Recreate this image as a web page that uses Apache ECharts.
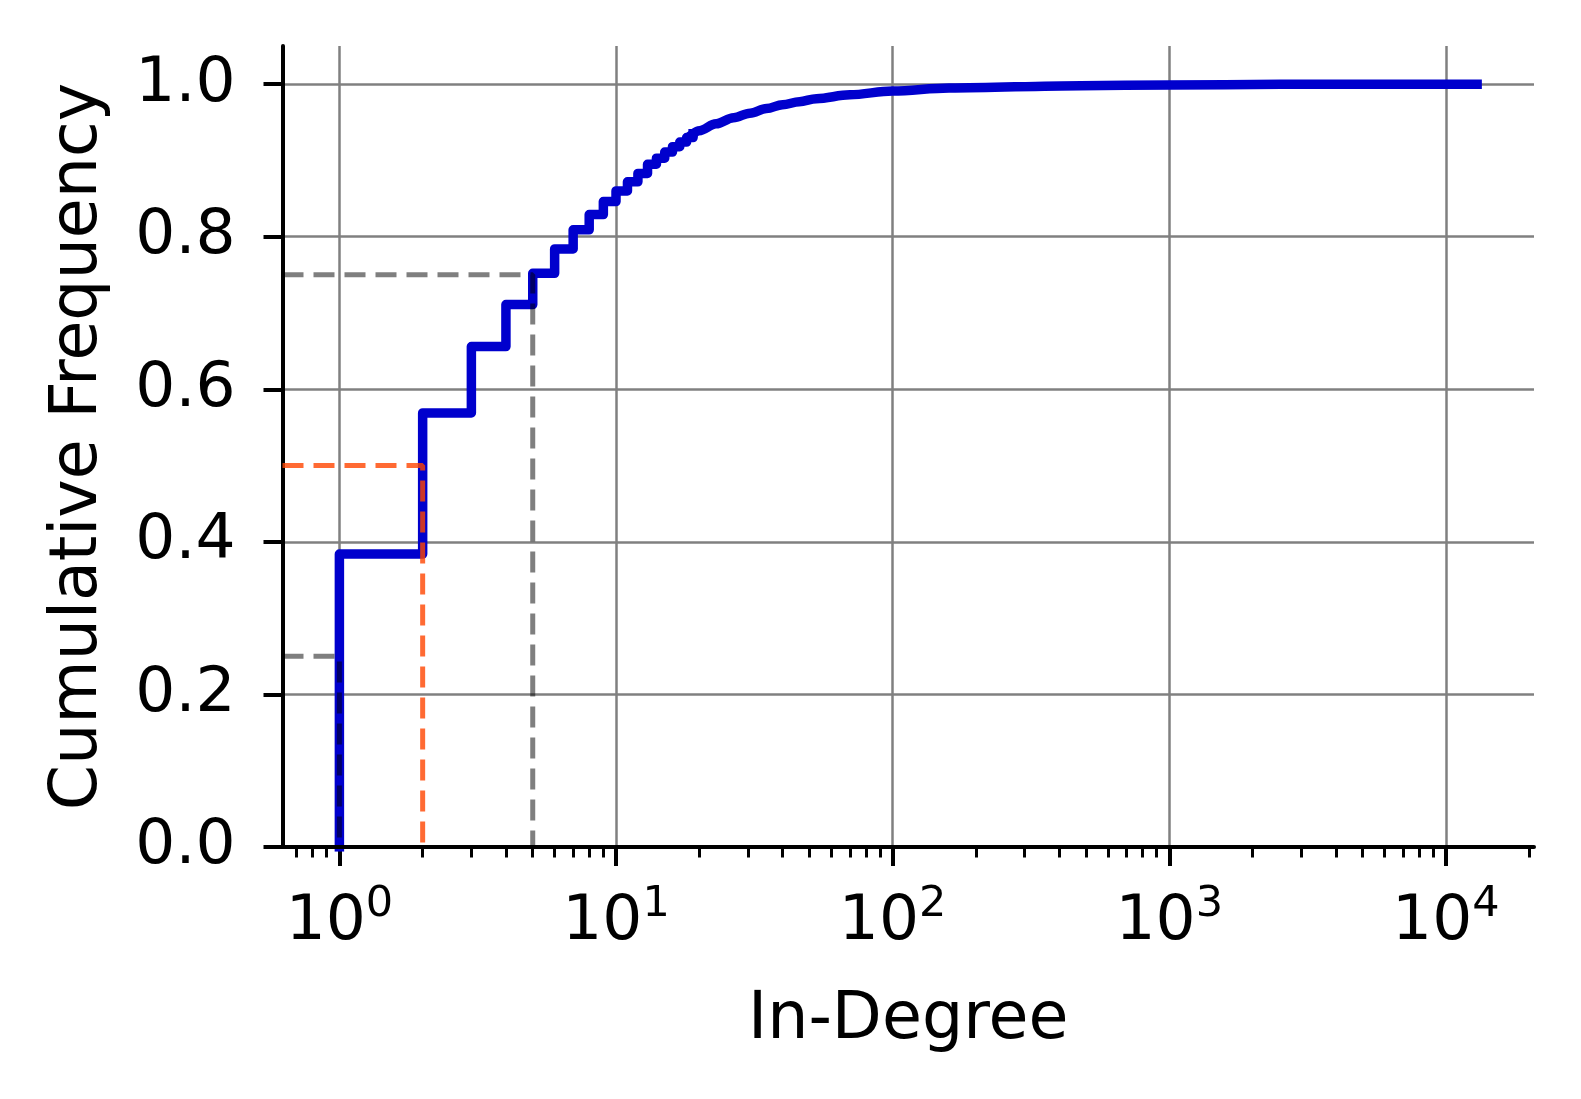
<!DOCTYPE html>
<html>
<head>
<meta charset="utf-8">
<script src="https://cdn.jsdelivr.net/npm/echarts@6/dist/echarts.min.js"></script>
<style>
html, body { margin: 0; padding: 0; background: #ffffff; }
#chart { width: 1581px; height: 1099px; }
</style>
</head>
<body>
<div id="chart"></div>
<script>
// ---- data ----
const stepDegrees = [1, 2, 3, 4, 5, 6, 7, 8, 9, 10, 11, 12, 13, 14, 15, 16, 17, 18, 19];
const stepCdf = [0.384, 0.569, 0.656, 0.711, 0.752, 0.784, 0.809, 0.829, 0.846, 0.860,
                 0.872, 0.883, 0.895, 0.903, 0.911, 0.918, 0.924, 0.930, 0.935];
const tailDegrees = [20, 23, 26.6, 30.5, 35, 40, 46, 53, 70, 100, 160, 480, 1000, 2530, 12970];
const tailCdf = [0.939, 0.948, 0.956, 0.962, 0.968, 0.973, 0.977, 0.981, 0.986, 0.991,
                 0.995, 0.998, 0.999, 0.9997, 1.0];
const quartileLevels = [0.25, 0.5, 0.75];
const quartileDegrees = [1, 2, 5];
const majorTicks = [1, 10, 100, 1000, 10000];
const minorTicks = [0.7, 0.8, 0.9,
  2, 3, 4, 5, 6, 7, 8, 9,
  20, 30, 40, 50, 60, 70, 80, 90,
  200, 300, 400, 500, 600, 700, 800, 900,
  2000, 3000, 4000, 5000, 6000, 7000, 8000, 9000,
  20000];
const yTicks = [0, 0.2, 0.4, 0.6, 0.8, 1.0];
const X_MIN = 0.6228;
const X_MAX = 20825;
const Y_MIN = 0;
const Y_MAX = 1.05;

// ---- build the ECDF step polyline (steps-post) ----
const stepPoints = [[stepDegrees[0], 0]];
for (let i = 0; i < stepDegrees.length; i++) {
  stepPoints.push([stepDegrees[i], stepCdf[i]]);
  if (i + 1 < stepDegrees.length) stepPoints.push([stepDegrees[i + 1], stepCdf[i]]);
}
const last = stepDegrees.length - 1;
const tailPoints = [[stepDegrees[last], stepCdf[last]]];
for (let i = 0; i < tailDegrees.length; i++) tailPoints.push([tailDegrees[i], tailCdf[i]]);

const FONT = 'DejaVu Sans';
const BLUE = '#0000CD';
const LW = 9.5;
const quartileColors = ['rgba(0,0,0,0.5)', 'rgba(255,69,0,0.8)', 'rgba(0,0,0,0.5)'];

const quartileSeries = quartileLevels.map((q, i) => ({
  type: 'line',
  xAxisIndex: 0,
  yAxisIndex: 0,
  data: [[X_MIN, q], [quartileDegrees[i], q], [quartileDegrees[i], 0]],
  showSymbol: false,
  symbol: 'none',
  silent: true,
  z: 4,
  lineStyle: { color: quartileColors[i], width: 5, type: [21, 10], cap: 'butt' }
}));

const chart = echarts.init(document.getElementById('chart'), null, { renderer: 'canvas' });
chart.setOption({
  animation: false,
  backgroundColor: '#ffffff',
  grid: {
    left: 282.5, right: 47, top: 46, bottom: 252,
    containLabel: false, outerBoundsMode: 'none'
  },
  xAxis: [
    {
      type: 'log',
      logBase: 10,
      min: X_MIN,
      max: X_MAX,
      position: 'bottom',
      axisLine: { show: false, onZero: false },
      axisTick: { show: true, customValues: majorTicks, length: 19,
                  lineStyle: { color: '#000000', width: 4 } },
      axisLabel: {
        show: true,
        customValues: majorTicks,
        margin: 44,
        formatter: function (v) {
          return '{b|10}{s|' + Math.round(Math.log10(v)) + '}';
        },
        rich: {
          b: { fontFamily: FONT, fontSize: 63, lineHeight: 63, color: '#000000' },
          s: { fontFamily: FONT, fontSize: 43, height: 28, lineHeight: 12, verticalAlign: 'top', color: '#000000' }
        }
      },
      splitLine: { show: true, lineStyle: { color: '#808080', width: 2.5 } },
      name: 'In-Degree',
      nameLocation: 'middle',
      nameGap: 142,
      nameTextStyle: { fontFamily: FONT, fontSize: 65, color: '#000000' }
    },
    {
      type: 'log',
      logBase: 10,
      min: X_MIN,
      max: X_MAX,
      z: 5,
      gridIndex: 0,
      position: 'bottom',
      axisLine: { show: true, onZero: false, lineStyle: { color: '#000000', width: 4 } },
      axisTick: { show: true, customValues: minorTicks, length: 10.5,
                  lineStyle: { color: '#000000', width: 3 } },
      axisLabel: { show: false },
      splitLine: { show: false }
    }
  ],
  yAxis: {
    type: 'value',
    min: Y_MIN,
    max: Y_MAX,
    axisLine: { show: true, onZero: false, lineStyle: { color: '#000000', width: 4 } },
    axisTick: { show: true, customValues: yTicks, length: 19,
                lineStyle: { color: '#000000', width: 4 } },
    axisLabel: {
      show: true,
      customValues: yTicks,
      margin: 47,
      fontFamily: FONT,
      fontSize: 63,
      color: '#000000',
      formatter: function (v) { return Number(v).toFixed(1); }
    },
    splitLine: { show: true, lineStyle: { color: '#808080', width: 2.5 } },
    name: 'Cumulative Frequency',
    nameLocation: 'middle',
    nameRotate: 90,
    nameGap: 171,
    nameTextStyle: { fontFamily: FONT, fontSize: 65, color: '#000000' }
  },
  series: [
    {
      type: 'line',
      xAxisIndex: 0,
      yAxisIndex: 0,
      data: stepPoints,
      showSymbol: false,
      symbol: 'none',
      silent: true,
      z: 2,
      lineStyle: { color: BLUE, width: LW, join: 'round', cap: 'square' }
    },
    {
      type: 'line',
      xAxisIndex: 0,
      yAxisIndex: 0,
      data: tailPoints,
      showSymbol: false,
      symbol: 'none',
      silent: true,
      smooth: 0.35,
      smoothMonotone: 'x',
      z: 2,
      lineStyle: { color: BLUE, width: LW, join: 'round', cap: 'square' }
    }
  ].concat(quartileSeries)
});
</script>
</body>
</html>
